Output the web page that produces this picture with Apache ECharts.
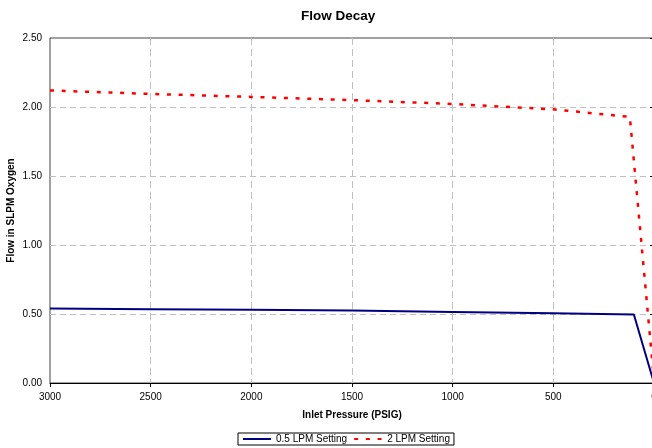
<!DOCTYPE html>
<html>
<head>
<meta charset="utf-8">
<script src="https://cdn.jsdelivr.net/npm/echarts@6/dist/echarts.min.js"></script>
<style>
  html, body { margin: 0; padding: 0; background: #fff; }
  #chart { width: 652px; height: 448px; }
</style>
</head>
<body>
<div id="chart"></div>
<script>
// inlet pressure (PSIG) vs flow (SLPM)
const lowPressure = [3000, 2500, 2000, 1500, 1000, 500, 100, 0]
const lowFlow = [0.54, 0.535, 0.53, 0.525, 0.515, 0.505, 0.497, 0.0]
const highPressure = [3000, 2500, 2000, 1500, 1000, 500, 120, 0]
const highFlow = [2.12, 2.095, 2.073, 2.05, 2.022, 1.983, 1.928, 0.02]
const seriesNames = ['0.5 LPM Setting', '2 LPM Setting']

const font = 'Liberation Sans, Arial, sans-serif'
const pair = (xs, ys) => xs.map((x, i) => [x, ys[i]])

const chart = echarts.init(document.getElementById('chart'))

chart.setOption({
  animation: false,
  textStyle: { fontFamily: font },
  title: {
    text: 'Flow Decay',
    left: 296,
    top: 4,
    textStyle: { fontSize: 13.5, fontWeight: 'bold', color: '#000', fontFamily: font }
  },
  grid: {
    left: 50,
    top: 38,
    width: 604,
    height: 345,
    containLabel: false,
    outerBoundsMode: 'none',
    show: true,
    borderColor: '#444',
    borderWidth: 1
  },
  legend: {
    bottom: 3,
    left: 238,
    data: seriesNames,
    itemWidth: 28,
    itemHeight: 8,
    itemGap: 6,
    padding: [1, 4],
    borderColor: '#000',
    borderWidth: 1,
    borderRadius: 0,
    itemStyle: { opacity: 0 },
    textStyle: { fontSize: 10, color: '#000', fontFamily: font }
  },
  xAxis: {
    type: 'value',
    inverse: true,
    min: 0,
    max: 3000,
    interval: 500,
    name: 'Inlet Pressure (PSIG)',
    nameLocation: 'middle',
    nameGap: 27,
    nameMoveOverlap: false,
    nameTextStyle: { fontSize: 10, fontWeight: 'bold', color: '#000' },
    axisLine: { lineStyle: { color: '#000', width: 1 } },
    axisTick: { length: 4, lineStyle: { color: '#000' } },
    axisLabel: { fontSize: 10, color: '#000', margin: 9, formatter: (v) => String(v) },
    splitLine: {
      show: true,
      showMinLine: false,
      showMaxLine: false,
      lineStyle: { color: '#c0c0c0', type: [7, 4] }
    }
  },
  yAxis: {
    type: 'value',
    min: 0,
    max: 2.5,
    interval: 0.5,
    name: 'Flow in SLPM Oxygen',
    nameLocation: 'middle',
    nameGap: 34,
    nameMoveOverlap: false,
    nameTextStyle: { fontSize: 10, fontWeight: 'bold', color: '#000' },
    axisLine: { show: true, lineStyle: { color: '#000', width: 1 } },
    axisTick: { show: true, length: 4, lineStyle: { color: '#000' } },
    axisLabel: {
      fontSize: 10,
      color: '#000',
      margin: 8,
      formatter: (v) => v.toFixed(2)
    },
    splitLine: {
      show: true,
      showMinLine: false,
      showMaxLine: false,
      lineStyle: { color: '#c0c0c0', type: [6, 4] }
    }
  },
  series: [
    {
      name: seriesNames[0],
      type: 'line',
      data: pair(lowPressure, lowFlow),
      symbol: 'none',
      color: '#000080',
      lineStyle: { color: '#000080', width: 2 }
    },
    {
      name: seriesNames[1],
      type: 'line',
      data: pair(highPressure, highFlow),
      symbol: 'none',
      color: '#ff0000',
      lineStyle: { color: '#ff0000', width: 2.5, type: [4, 7.7] }
    }
  ]
})
</script>
</body>
</html>
